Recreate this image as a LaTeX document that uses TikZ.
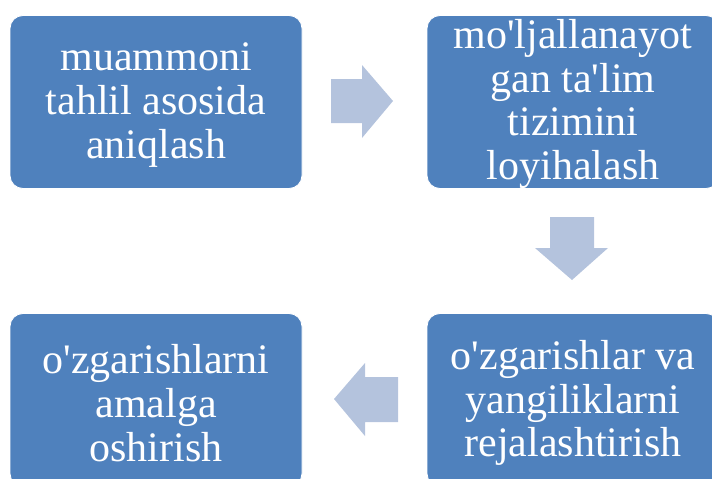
\documentclass[tikz,border=0pt]{standalone}
\usepackage{fontspec}
\setmainfont{Liberation Serif}
\newcommand{\apos}{\textquotesingle}
\definecolor{boxblue}{RGB}{79,129,189}
\definecolor{arrowblue}{RGB}{180,195,221}
\tikzset{
  stepbox/.style={rounded corners=13pt, fill=boxblue, draw=white, line width=0.8pt,
    minimum width=292pt, minimum height=173pt, inner sep=0pt},
  steptext/.style={inner sep=0pt, text=white, align=center,
    font=\fontsize{42}{43.8}\selectfont},
  blockarrow/.style={fill=arrowblue, draw=none}
}
\begin{document}
\begin{tikzpicture}[x=1pt,y=-1pt]
\useasboundingbox (0,0) rectangle (712,479);
\clip (0,0) rectangle (712,479);
\node[stepbox] (b1) at (156,102) {};
\node[stepbox] (b2) at (573,102) {};
\node[stepbox] (b3) at (573,400) {};
\node[stepbox] (b4) at (156,400) {};
\node[steptext] (t1) at ([yshift=-3pt]b1.center) {muammoni\\tahlil asosida\\aniqlash};
\node[steptext] (t2) at ([yshift=-2pt]b2.center) {mo\apos ljallanayot\\gan ta\apos lim\\tizimini\\loyihalash};
\node[steptext] (t3) at ([yshift=-3pt]b3.center) {o\apos zgarishlar va\\yangiliklarni\\rejalashtirish};
\node[steptext] (t4) at ([yshift=-3pt]b4.center) {o\apos zgarishlarni\\amalga\\oshirish};
% right arrow b1 -> b2
\fill[blockarrow] (331,79) -- (362,79) -- (362,65) -- (393,101) -- (362,138) -- (362,123) -- (331,123) -- cycle;
% down arrow b2 -> b3
\fill[blockarrow] (550,217) -- (594,217) -- (594,248) -- (608,248) -- (572,280) -- (535,248) -- (550,248) -- cycle;
% left arrow b3 -> b4
\fill[blockarrow] (398,377) -- (365,377) -- (365,363) -- (334,399) -- (365,436) -- (365,422) -- (398,422) -- cycle;
\end{tikzpicture}
\end{document}
